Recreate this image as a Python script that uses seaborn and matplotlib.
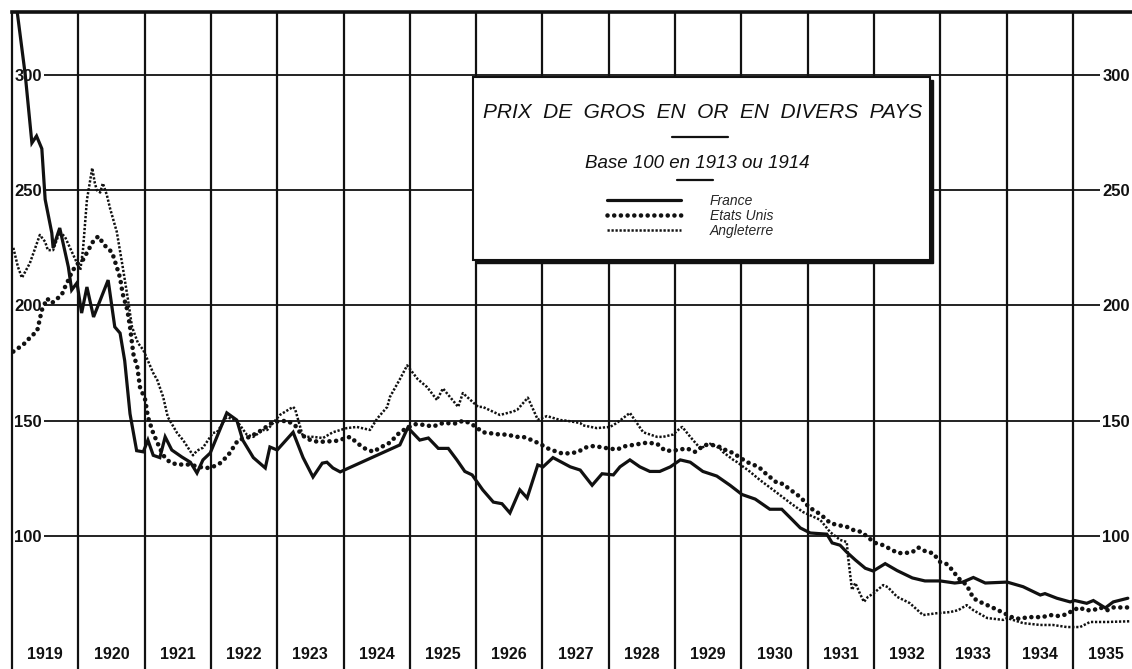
import matplotlib
matplotlib.use("Agg")
import matplotlib.pyplot as plt
import seaborn as sns
import pandas as pd
from matplotlib.patches import Rectangle

# ---------------- data ----------------
france_t = [1919.00, 1919.20, 1919.30, 1919.37, 1919.45, 1919.50, 1919.60, 1919.62, 1919.72, 1919.85,
            1919.90, 1919.98, 1920.05, 1920.13, 1920.23, 1920.45, 1920.55, 1920.63, 1920.70, 1920.78,
            1920.88, 1920.98, 1921.05, 1921.13, 1921.23, 1921.31, 1921.41, 1921.56, 1921.69, 1921.79,
            1921.88, 1921.99, 1922.24, 1922.39, 1922.48, 1922.64, 1922.82, 1922.89, 1923.00, 1923.24,
            1923.39, 1923.54, 1923.68, 1923.75, 1923.84, 1923.95, 1924.85, 1924.97, 1925.15, 1925.28,
            1925.43, 1925.58, 1925.71, 1925.83, 1925.94, 1926.10, 1926.26, 1926.39, 1926.51, 1926.66,
            1926.77, 1926.93, 1927.01, 1927.16, 1927.42, 1927.57, 1927.75, 1927.90, 1928.07, 1928.17,
            1928.32, 1928.47, 1928.62, 1928.77, 1928.93, 1929.08, 1929.23, 1929.42, 1929.63, 1929.83,
            1930.01, 1930.21, 1930.43, 1930.61, 1930.77, 1930.89, 1931.04, 1931.29, 1931.37, 1931.49,
            1931.59, 1931.72, 1931.87, 1931.99, 1932.17, 1932.35, 1932.58, 1932.77, 1933.00, 1933.22,
            1933.34, 1933.50, 1933.68, 1934.01, 1934.25, 1934.51, 1934.58, 1934.76, 1934.96, 1935.03,
            1935.21, 1935.31, 1935.49, 1935.61, 1935.83]
france_v = [345, 300, 270.5, 273.5, 268, 246, 231.5, 225, 233.6, 216.7,
            206.7, 209.8, 196.7, 208, 195, 211, 190.7, 188, 176, 153,
            137, 136.5, 141.6, 135, 134, 143, 137.3, 134.3, 132, 127.3,
            133, 136, 153.4, 150.3, 141.6, 134, 129.5, 138.6, 137.3, 145,
            134, 125.6, 131.6, 132, 129.5, 127.8, 139.5, 147, 141.6, 142.5,
            138, 138, 133, 128, 126.5, 120, 114.7, 114, 110, 120,
            116.5, 130.8, 130, 134, 130, 128.6, 122, 127, 126.5, 130,
            133, 130, 128, 128, 130, 133, 132, 128, 126, 122,
            118, 116, 111.6, 111.6, 107, 103.5, 101.3, 100.8, 97, 96,
            93, 89.6, 86, 84.8, 88, 85, 81.8, 80.5, 80.5, 79.6,
            80, 82, 79.6, 80, 78, 74.4, 75, 73, 71.4, 72,
            70.8, 72, 68.8, 71.4, 73]

usa_t = [1919.02, 1919.17, 1919.27, 1919.38, 1919.45, 1919.53, 1919.60, 1919.75, 1919.80, 1919.85,
         1919.91, 1920.00, 1920.07, 1920.15, 1920.22, 1920.30, 1920.40, 1920.51, 1920.58, 1920.63,
         1920.67, 1920.74, 1920.78, 1920.83, 1920.89, 1920.93, 1921.01, 1921.05, 1921.13, 1921.20,
         1921.28, 1921.38, 1921.49, 1921.58, 1921.69, 1921.81, 1921.94, 1922.03, 1922.14, 1922.26,
         1922.41, 1922.59, 1922.77, 1922.94, 1923.15, 1923.27, 1923.37, 1923.50, 1923.62, 1923.75,
         1923.90, 1924.10, 1924.22, 1924.32, 1924.45, 1924.55, 1924.70, 1924.85, 1924.97, 1925.08,
         1925.18, 1925.35, 1925.50, 1925.71, 1925.80, 1925.91, 1926.01, 1926.10, 1926.21, 1926.36,
         1926.48, 1926.59, 1926.71, 1926.84, 1926.96, 1927.08, 1927.22, 1927.31, 1927.45, 1927.54,
         1927.64, 1927.75, 1927.87, 1927.99, 1928.13, 1928.22, 1928.37, 1928.47, 1928.58, 1928.73,
         1928.85, 1928.97, 1929.18, 1929.30, 1929.45, 1929.56, 1929.68, 1929.78, 1929.88, 1929.98,
         1930.09, 1930.18, 1930.28, 1930.36, 1930.54, 1930.63, 1930.74, 1930.84, 1930.92, 1930.99,
         1931.07, 1931.16, 1931.26, 1931.34, 1931.46, 1931.59, 1931.69, 1931.82, 1931.90, 1932.02,
         1932.14, 1932.27, 1932.36, 1932.47, 1932.58, 1932.67, 1932.80, 1932.89, 1933.00, 1933.10,
         1933.19, 1933.27, 1933.40, 1933.50, 1933.60, 1933.71, 1933.80, 1933.93, 1934.08, 1934.20,
         1934.32, 1934.54, 1934.66, 1934.78, 1934.91, 1935.00, 1935.11, 1935.18, 1935.31, 1935.41,
         1935.52, 1935.61, 1935.82]
usa_v = [180, 183, 186, 189, 198, 203, 201, 204.6, 208, 211,
         215, 218.4, 219.8, 224, 227.6, 230, 226, 223, 216.7, 212,
         205, 198, 190.7, 179, 173.3, 164.6, 159, 151.6, 144.6, 140,
         135, 132, 131, 131, 131, 130, 129.5, 130, 131.6, 135,
         141.6, 143, 146, 149.5, 150, 148, 143.8, 141.6, 140.8, 141,
         141.3, 143, 140, 138, 136.5, 138.3, 140.5, 145, 147, 148.5,
         148.3, 147.5, 149, 148.8, 150, 149, 147, 145, 144.6, 144,
         144, 143, 143, 141.6, 140, 138, 136.5, 135.7, 136, 136.5,
         138.3, 139, 138.6, 138, 137.5, 138.8, 139.5, 140, 140.5, 140,
         137, 137, 138, 136.5, 139.5, 139.5, 138.6, 137, 136, 134,
         132, 131, 129.5, 127.3, 123, 122.6, 120, 118, 116, 113.5,
         111.6, 110, 107.8, 105.6, 104.7, 104, 102.6, 101.7, 99.6, 97,
         96, 94, 92.6, 92.6, 93, 95, 93, 92.6, 88.7, 87.8,
         85, 81.8, 78.7, 73, 71.4, 70, 68.8, 67, 64.8, 64,
         64.8, 64.8, 65.7, 65.3, 66, 67.8, 69, 67.8, 67.8, 69,
         67.8, 69, 69]

uk_t = [1919.02, 1919.09, 1919.15, 1919.27, 1919.42, 1919.50, 1919.54, 1919.62, 1919.72, 1919.80,
        1919.91, 1919.98, 1920.03, 1920.07, 1920.13, 1920.21, 1920.25, 1920.28, 1920.33, 1920.37,
        1920.43, 1920.48, 1920.58, 1920.67, 1920.75, 1920.81, 1920.90, 1920.98, 1921.13, 1921.19,
        1921.28, 1921.35, 1921.49, 1921.58, 1921.73, 1921.79, 1921.88, 1922.03, 1922.09, 1922.24,
        1922.39, 1922.54, 1922.64, 1922.79, 1922.85, 1923.04, 1923.24, 1923.27, 1923.39, 1923.54,
        1923.69, 1923.84, 1924.05, 1924.20, 1924.40, 1924.51, 1924.66, 1924.70, 1924.85, 1924.96,
        1925.12, 1925.26, 1925.41, 1925.50, 1925.73, 1925.80, 1926.03, 1926.10, 1926.36, 1926.56,
        1926.62, 1926.78, 1926.93, 1927.07, 1927.27, 1927.37, 1927.57, 1927.61, 1927.82, 1928.02,
        1928.12, 1928.32, 1928.52, 1928.73, 1928.82, 1928.97, 1929.08, 1929.11, 1929.23, 1929.38,
        1929.53, 1929.68, 1929.72, 1929.88, 1929.94, 1930.03, 1930.10, 1930.28, 1930.54, 1930.74,
        1930.93, 1931.19, 1931.34, 1931.49, 1931.59, 1931.61, 1931.67, 1931.72, 1931.79, 1931.85,
        1931.91, 1931.99, 1932.14, 1932.21, 1932.35, 1932.54, 1932.74, 1932.95, 1933.15, 1933.27,
        1933.40, 1933.50, 1933.71, 1933.95, 1934.01, 1934.25, 1934.51, 1934.70, 1934.91, 1935.11,
        1935.26, 1935.52, 1935.86]
uk_v = [225, 216.7, 212, 218.4, 230.6, 227.6, 224, 224, 232, 229.7,
        222.8, 218.4, 215.4, 224, 245.8, 259.6, 253, 250, 249, 253,
        248, 242, 232, 216.7, 202.4, 190.7, 183.7, 180.7, 170.7, 167.7,
        160.3, 151.6, 144.7, 141.6, 135, 137, 138.3, 144.7, 145, 151.6,
        150, 144, 143, 146, 146, 152.5, 156, 155, 143, 143,
        142.5, 145, 146.8, 147.3, 146, 151, 156, 160.3, 168, 174,
        168, 164.6, 159, 164, 156, 162, 156, 156, 152.5, 154,
        154.7, 160, 150.5, 152, 150.3, 150, 149, 148, 146.8, 147.3,
        149, 153.4, 145, 143, 143, 144, 146.8, 147.3, 143, 138,
        140, 138, 136.5, 133, 132, 130, 128.6, 124.3, 118.7, 114.3,
        110.4, 107, 101.7, 98.3, 97.4, 91, 76.6, 79.6, 75, 71.4,
        73.6, 75, 78.7, 77.8, 73.6, 70.9, 65.7, 66.5, 67, 67.8,
        70, 67.8, 64.4, 63.6, 64.4, 62.2, 61.4, 61.4, 60.5, 60.5,
        62.7, 62.7, 63]

series_names = ["France", "Etats Unis", "Angleterre"]
year_labels = [str(y) for y in range(1919, 1936)]
year_bounds = list(range(1920, 1936))
year_mids = [y + 0.5 for y in range(1919, 1936)]
y_ticks = [100, 150, 200, 250, 300]

# ---------------- figure ----------------
sns.set_style("white")
plt.rcParams["font.family"] = ["Liberation Sans", "DejaVu Sans"]
INK = "#111111"

W, H = 1132, 669
fig = plt.figure(figsize=(W / 100, H / 100), dpi=100)
ax = fig.add_axes([12 / W, 0, 1 - 12 / W, 1 - 12 / H])
ax.set_xlim(1919.0, 1919 + 1120 / 66.3)
ax.set_ylim(42.3, 327.3)

df_fr = pd.DataFrame({"t": france_t, "v": france_v})
df_us = pd.DataFrame({"t": usa_t, "v": usa_v})
df_uk = pd.DataFrame({"t": uk_t, "v": uk_v})

sns.lineplot(data=df_fr, x="t", y="v", ax=ax, color=INK, lw=2.3, estimator=None,
             sort=False, label=series_names[0], solid_joinstyle="miter")
sns.lineplot(data=df_us, x="t", y="v", ax=ax, color=INK, lw=3.3, estimator=None,
             sort=False, label=series_names[1], linestyle=(0, (0.01, 1.45)),
             dash_capstyle="round")
sns.lineplot(data=df_uk, x="t", y="v", ax=ax, color=INK, lw=1.8, estimator=None,
             sort=False, label=series_names[2], linestyle=(0, (0.9, 0.7)))

# grid / axes styling
for s in ["right", "bottom"]:
    ax.spines[s].set_visible(False)
ax.spines["top"].set_linewidth(2.6)
ax.spines["left"].set_linewidth(1.6)
ax.spines["top"].set_color(INK)
ax.spines["left"].set_color(INK)
ax.set_axisbelow(True)

ax.set_yticks(y_ticks, labels=[str(v) for v in y_ticks])
ax.tick_params(axis="y", which="major", left=True, right=False, direction="in",
               length=6, width=1.5, color=INK, labelleft=True, labelright=True,
               pad=-21.5, labelsize=12, labelcolor=INK)
for tick in ax.yaxis.get_major_ticks():
    for lbl in (tick.label1, tick.label2):
        lbl.set_fontweight("bold")
        lbl.set_bbox(dict(facecolor="white", edgecolor="none", pad=1.5))

ax.set_xticks(year_bounds, labels=[""] * len(year_bounds))
ax.set_xticks(year_mids, labels=year_labels, minor=True)
ax.tick_params(axis="x", which="major", length=0)
ax.tick_params(axis="x", which="minor", length=0, pad=-15.5, labelsize=11.5,
               labelcolor=INK)
for lbl in ax.get_xticklabels(minor=True):
    lbl.set_fontweight("bold")

ax.grid(axis="y", which="major", color=INK, lw=1.3)
ax.grid(axis="x", which="major", color=INK, lw=1.6)
ax.set_xlabel("")
ax.set_ylabel("")

# ---------------- legend box ----------------
handles, labels = ax.get_legend_handles_labels()
ax.get_legend().remove()

bx0, by0, bx1, by1 = 473 / W, 1 - 260 / H, 930 / W, 1 - 77 / H
shadow = Rectangle((bx0 + 3 / W, by0 - 3 / H), bx1 - bx0, by1 - by0,
                   transform=fig.transFigure, facecolor=INK, edgecolor=INK, zorder=5)
box = Rectangle((bx0, by0), bx1 - bx0, by1 - by0, transform=fig.transFigure,
                facecolor="white", edgecolor=INK, lw=1.5, zorder=6)
fig.add_artist(shadow)
fig.add_artist(box)

fig.text(703 / W, 1 - 113 / H, "PRIX  DE  GROS  EN  OR  EN  DIVERS  PAYS",
         ha="center", va="center", fontsize=15, style="italic", color=INK, zorder=7)
fig.text(697 / W, 1 - 163 / H, "Base 100 en 1913 ou 1914", ha="center", va="center",
         fontsize=13.5, style="italic", color=INK, zorder=7)
fig.add_artist(plt.Line2D([672 / W, 728 / W], [1 - 137 / H] * 2, transform=fig.transFigure,
                          color=INK, lw=1.6, zorder=7))
fig.add_artist(plt.Line2D([677 / W, 713 / W], [1 - 180 / H] * 2, transform=fig.transFigure,
                          color=INK, lw=1.6, zorder=7))

leg = fig.legend(handles, labels, loc="upper left", bbox_to_anchor=(607 / W, 1 - 194 / H),
                 frameon=False, borderpad=0, borderaxespad=0,
                 handlelength=5.3, handletextpad=2.1, labelspacing=0.08,
                 prop={"style": "italic", "size": 10})
leg.set_zorder(8)

fig.savefig("out.png", dpi=100, facecolor="white")
